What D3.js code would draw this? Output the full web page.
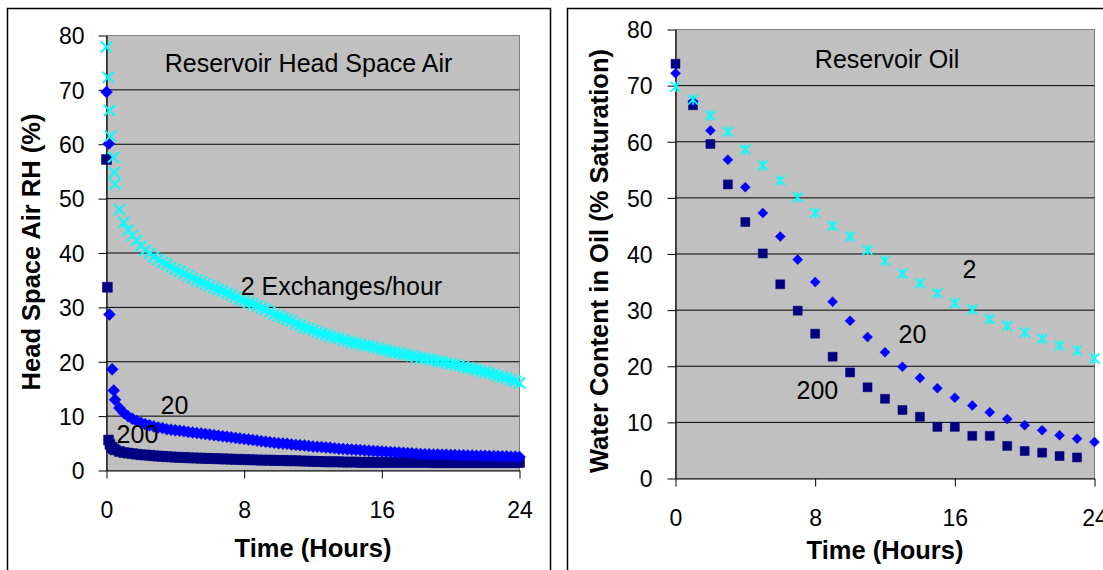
<!DOCTYPE html>
<html>
<head>
<meta charset="utf-8">
<script src="https://cdn.jsdelivr.net/npm/d3@7"></script>
<style>
  body { margin: 0; background: #fff; }
  svg text { font-family: Arial, "Liberation Sans", sans-serif; fill: #000; }
</style>
</head>
<body>
<script>
// ---- shared axis ticks
const hourTicks = [0, 8, 16, 24];
const valueTicks = [0, 10, 20, 30, 40, 50, 60, 70, 80];

// ---- left panel: head space air RH (%)
// first few readings per series (sparse), then the dense band every 0.25 h
const air2EarlyHours = [0, 0.1, 0.17, 0.23, 0.4, 0.45];
const air2Early = [77.9, 72.3, 66.2, 61.5, 57.6, 54.8];
const air20EarlyHours = [0, 0.13, 0.17, 0.33, 0.42];
const air20Early = [69.6, 60.1, 28.7, 18.6, 14.7];
const air200EarlyHours = [0, 0.05, 0.12, 0.2, 0.3, 0.4];
const air200Early = [57.2, 33.7, 5.6, 4.8, 4.3, 4.0];

const airBandHours = [0.5, 0.75, 1, 1.25, 1.5, 1.75, 2, 2.25, 2.5, 2.75,
  3, 3.25, 3.5, 3.75, 4, 4.25, 4.5, 4.75, 5, 5.25,
  5.5, 5.75, 6, 6.25, 6.5, 6.75, 7, 7.25, 7.5, 7.75,
  8, 8.25, 8.5, 8.75, 9, 9.25, 9.5, 9.75, 10, 10.25,
  10.5, 10.75, 11, 11.25, 11.5, 11.75, 12, 12.25, 12.5, 12.75,
  13, 13.25, 13.5, 13.75, 14, 14.25, 14.5, 14.75, 15, 15.25,
  15.5, 15.75, 16, 16.25, 16.5, 16.75, 17, 17.25, 17.5, 17.75,
  18, 18.25, 18.5, 18.75, 19, 19.25, 19.5, 19.75, 20, 20.25,
  20.5, 20.75, 21, 21.25, 21.5, 21.75, 22, 22.25, 22.5, 22.75,
  23, 23.25, 23.5, 23.75, 24];

const air2Band = [52.7, 48.0, 45.6, 44.2, 43.2, 42.3, 41.3, 40.5, 39.9, 39.3,
  38.8, 38.3, 37.9, 37.4, 37.0, 36.6, 36.2, 35.8, 35.4, 35.0,
  34.7, 34.3, 34.0, 33.6, 33.3, 33.0, 32.6, 32.3, 31.9, 31.5,
  31.2, 30.9, 30.6, 30.3, 29.9, 29.6, 29.2, 28.7, 28.4, 28.1,
  27.8, 27.5, 27.0, 26.7, 26.3, 26.1, 25.8, 25.5, 25.2, 25.0,
  24.7, 24.5, 24.3, 24.0, 23.8, 23.6, 23.4, 23.2, 23.0, 22.9,
  22.7, 22.5, 22.3, 22.1, 21.9, 21.7, 21.6, 21.4, 21.3, 21.1,
  20.9, 20.7, 20.6, 20.4, 20.3, 20.1, 20.0, 19.8, 19.6, 19.5,
  19.3, 19.1, 18.9, 18.7, 18.5, 18.3, 18.1, 17.9, 17.7, 17.4,
  17.2, 17.0, 16.7, 16.4, 16.1];

const air20Band = [13.0, 11.5, 10.6, 10.0, 9.5, 9.1, 8.8, 8.5, 8.3, 8.1,
  7.9, 7.8, 7.6, 7.5, 7.4, 7.3, 7.2, 7.1, 7.0, 6.9,
  6.8, 6.7, 6.6, 6.5, 6.4, 6.3, 6.2, 6.1, 6.0, 5.9,
  5.8, 5.7, 5.6, 5.5, 5.4, 5.3, 5.2, 5.1, 5.0, 4.95,
  4.9, 4.8, 4.7, 4.65, 4.6, 4.5, 4.4, 4.35, 4.3, 4.25,
  4.2, 4.1, 4.0, 3.95, 3.9, 3.85, 3.8, 3.75, 3.7, 3.65,
  3.6, 3.55, 3.5, 3.45, 3.4, 3.35, 3.3, 3.25, 3.2, 3.15,
  3.1, 3.05, 3.0, 3.0, 2.95, 2.95, 2.9, 2.9, 2.85, 2.85,
  2.8, 2.8, 2.75, 2.75, 2.7, 2.7, 2.7, 2.65, 2.65, 2.6,
  2.6, 2.6, 2.55, 2.55, 2.5];

const air200Band = [3.8, 3.5, 3.3, 3.2, 3.1, 3.0, 2.9, 2.85, 2.8, 2.7,
  2.65, 2.6, 2.55, 2.5, 2.45, 2.4, 2.4, 2.35, 2.3, 2.3,
  2.25, 2.25, 2.2, 2.2, 2.15, 2.15, 2.1, 2.1, 2.05, 2.05,
  2.0, 2.0, 1.95, 1.95, 1.9, 1.9, 1.9, 1.85, 1.85, 1.85,
  1.8, 1.8, 1.8, 1.75, 1.75, 1.7, 1.7, 1.65, 1.65, 1.6,
  1.6, 1.6, 1.6, 1.55, 1.55, 1.55, 1.55, 1.5, 1.5, 1.5,
  1.5, 1.5, 1.5, 1.5, 1.5, 1.5, 1.5, 1.5, 1.5, 1.5,
  1.5, 1.5, 1.5, 1.5, 1.45, 1.45, 1.45, 1.45, 1.45, 1.45,
  1.45, 1.45, 1.45, 1.45, 1.45, 1.45, 1.45, 1.45, 1.45, 1.45,
  1.45, 1.45, 1.45, 1.45, 1.45];

// ---- right panel: water content in oil (% saturation), hourly
const oilHours = [0, 1, 2, 3, 4, 5, 6, 7, 8, 9, 10, 11, 12, 13, 14, 15, 16, 17, 18, 19, 20, 21, 22, 23, 24];
const oil2 = [69.8, 67.5, 64.7, 61.8, 58.6, 55.8, 53.1, 50.1, 47.3, 45.0, 43.1, 40.7, 38.8,
  36.5, 34.8, 33.0, 31.25, 30.1, 28.4, 27.2, 26.0, 24.9, 23.7, 22.8, 21.4];
const oil20 = [72.2, 67.2, 62.0, 56.8, 51.9, 47.3, 43.1, 39.0, 35.0, 31.5, 28.1, 25.2, 22.5,
  19.9, 17.9, 16.1, 14.4, 13.0, 11.8, 10.6, 9.5, 8.6, 7.7, 7.1, 6.5];
const oil200 = [73.9, 66.5, 59.6, 52.4, 45.7, 40.1, 34.6, 29.9, 25.8, 21.7, 18.9, 16.25, 14.2,
  12.2, 11.0, 9.2, 9.2, 7.6, 7.6, 5.8, 4.9, 4.6, 4.0, 3.75, null];

const zip = (hours, vals) => hours.map((h, i) => ({ t: h, v: vals[i] })).filter(d => d.v != null);

// marker shapes
const shapes = {
  square: s => `M${-s},${-s}h${2 * s}v${2 * s}h${-2 * s}Z`,
  diamond: s => `M0,${-s}L${s},0L0,${s}L${-s},0Z`,
  cross: s => `M${-s},${-s}L${s},${s}M${-s},${s}L${s},${-s}`,
  asterisk: s => `M${-s},${-s}L${s},${s}M${-s},${s}L${s},${-s}M0,${-s}V${s}`
};

const svg = d3.select("body").append("svg")
  .attr("width", 1103)
  .attr("height", 570);

function drawPanel(p) {
  const x = d3.scaleLinear().domain([0, 24]).range([p.left, p.right]);
  const y = d3.scaleLinear().domain([0, 80]).range([p.bottom, p.top]);
  const g = svg.append("g");

  // outer chart frame
  g.append("rect")
    .attr("x", p.frameX).attr("y", 8.5)
    .attr("width", p.frameW).attr("height", 600)
    .attr("fill", "#fff").attr("stroke", "#000").attr("stroke-width", 1.5);

  // plot area
  g.append("rect")
    .attr("x", p.left).attr("y", p.top)
    .attr("width", p.right - p.left).attr("height", p.bottom - p.top)
    .attr("fill", "#c0c0c0")
    .attr("stroke", "#808080");

  g.selectAll("line.grid")
    .data(valueTicks.slice(1, -1))
    .join("line")
    .attr("class", "grid")
    .attr("x1", p.left).attr("x2", p.right)
    .attr("y1", d => y(d)).attr("y2", d => y(d))
    .attr("stroke", "#000").attr("stroke-width", 1);

  // axes
  const yAxis = g.append("g")
    .attr("transform", `translate(${p.left},0)`)
    .call(d3.axisLeft(y).tickValues(valueTicks).tickSize(8).tickSizeOuter(0).tickPadding(p.yPad));
  const xAxis = g.append("g")
    .attr("transform", `translate(0,${p.bottom})`)
    .call(d3.axisBottom(x).tickValues(hourTicks).tickSize(8).tickSizeOuter(0).tickPadding(23));
  [yAxis, xAxis].forEach(a => {
    a.select(".domain").attr("stroke", "#000").attr("stroke-width", 1.2);
    a.selectAll(".tick line").attr("stroke", "#000");
    a.selectAll(".tick text")
      .attr("font-size", 23)
      .attr("font-family", "Arial, 'Liberation Sans', sans-serif")
      .attr("fill", "#000");
  });
  yAxis.selectAll(".tick text").attr("dy", "0.36em");

  // series: navy first, cyan on top
  p.series.forEach(s => {
    g.append("g")
      .selectAll("path")
      .data(s.data)
      .join("path")
      .attr("transform", d => `translate(${x(d.t)},${y(d.v)})`)
      .attr("d", shapes[s.shape](s.size))
      .attr("fill", s.fill ? s.color : "none")
      .attr("stroke", s.color)
      .attr("stroke-width", s.fill ? 0.5 : s.width);
  });

  // in-plot annotations
  g.selectAll("text.note")
    .data(p.notes)
    .join("text")
    .attr("class", "note")
    .attr("x", d => x(d.t)).attr("y", d => y(d.v))
    .attr("text-anchor", "middle")
    .attr("font-size", 25)
    .text(d => d.text);

  // axis titles
  g.append("text")
    .attr("x", (p.left + p.right) / 2).attr("y", p.xTitleY)
    .attr("text-anchor", "middle")
    .attr("font-size", 25.5).attr("font-weight", "bold")
    .text("Time (Hours)");
  g.append("text")
    .attr("transform", `translate(${p.yTitleX},${p.yTitleMid}) rotate(-90)`)
    .attr("text-anchor", "middle")
    .attr("font-size", 25.5).attr("font-weight", "bold")
    .text(p.yTitle);
}

drawPanel({
  frameX: 7.5, frameW: 543,
  left: 106.5, right: 519.5, top: 35.5, bottom: 470.5,
  yPad: 14, xTitleY: 557,
  yTitleX: 39.5, yTitleMid: 252,
  yTitle: "Head Space Air RH (%)",
  series: [
    { data: zip(air200EarlyHours.concat(airBandHours), air200Early.concat(air200Band)), shape: "square", size: 5, color: "#000080", fill: true },
    { data: zip(air20EarlyHours.concat(airBandHours), air20Early.concat(air20Band)), shape: "diamond", size: 6, color: "#0000ff", fill: true },
    { data: zip(air2EarlyHours.concat(airBandHours), air2Early.concat(air2Band)), shape: "cross", size: 5.5, width: 2, color: "#00ffff", fill: false }
  ],
  notes: [
    { text: "Reservoir Head Space Air", t: 11.74, v: 73.2 },
    { text: "2 Exchanges/hour", t: 13.65, v: 32.2 },
    { text: "20", t: 3.95, v: 10.3 },
    { text: "200", t: 1.8, v: 5.0 }
  ]
});

drawPanel({
  frameX: 567.5, frameW: 560,
  left: 675.5, right: 1094.5, top: 29.5, bottom: 478.5,
  yPad: 15, xTitleY: 559,
  yTitleX: 608, yTitleMid: 261,
  yTitle: "Water Content in Oil (% Saturation)",
  series: [
    { data: zip(oilHours, oil200), shape: "square", size: 4.5, color: "#000080", fill: true },
    { data: zip(oilHours, oil20), shape: "diamond", size: 5, color: "#0000ff", fill: true },
    { data: zip(oilHours, oil2), shape: "asterisk", size: 5, width: 1.6, color: "#00ffff", fill: false }
  ],
  notes: [
    { text: "Reservoir Oil", t: 12.12, v: 73.2 },
    { text: "2", t: 16.84, v: 35.8 },
    { text: "20", t: 13.57, v: 24.2 },
    { text: "200", t: 8.13, v: 14.25 }
  ]
});
</script>
</body>
</html>
